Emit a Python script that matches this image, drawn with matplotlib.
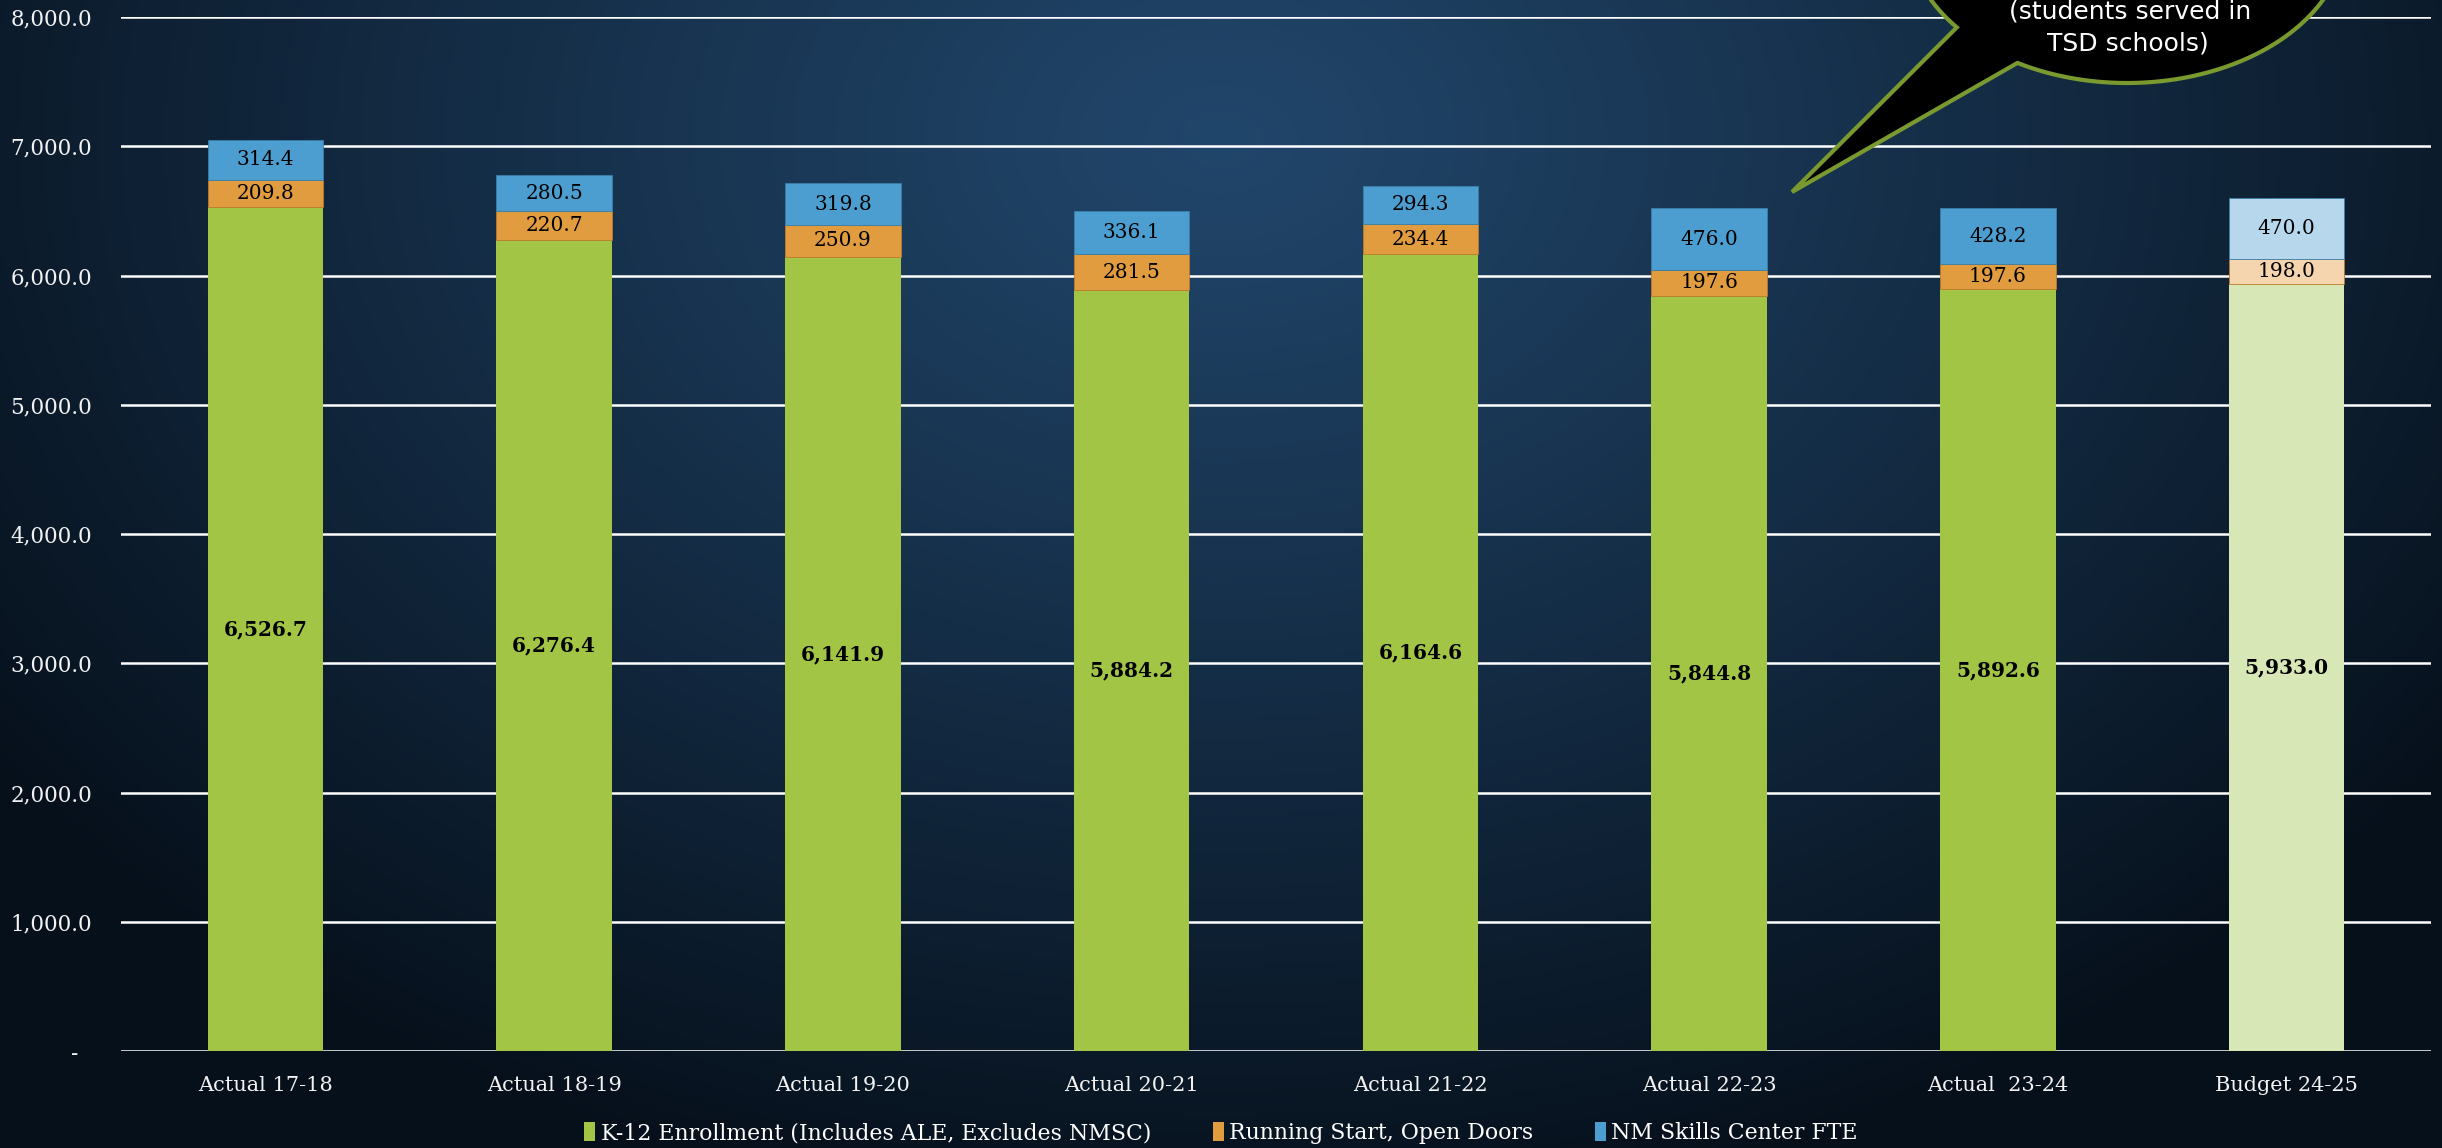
import numpy as np
import matplotlib
matplotlib.use("Agg")
import matplotlib.pyplot as plt
from matplotlib.patches import Polygon, Patch
from matplotlib.ticker import FuncFormatter

# chart data
categories = ["Actual 17-18", "Actual 18-19", "Actual 19-20", "Actual 20-21",
              "Actual 21-22", "Actual 22-23", "Actual  23-24", "Budget 24-25"]
k12 = [6526.7, 6276.4, 6141.9, 5884.2, 6164.6, 5844.8, 5892.6, 5933.0]
running_start = [209.8, 220.7, 250.9, 281.5, 234.4, 197.6, 197.6, 198.0]
skills_center = [314.4, 280.5, 319.8, 336.1, 294.3, 476.0, 428.2, 470.0]
series_names = ["K-12 Enrollment (Includes ALE, Excludes NMSC)",
                "Running Start, Open Doors", "NM Skills Center FTE"]

W, H = 2442, 1148
fig = plt.figure(figsize=(W / 100, H / 100), dpi=100)

# background gradient
bg = fig.add_axes([0, 0, 1, 1], zorder=0)
yy, xx = np.mgrid[0:1:300j, 0:1:600j]
d = np.sqrt(((xx - 0.5) / 0.62) ** 2 + ((yy - 0.12) / 0.95) ** 2)
t = np.clip(d, 0, 1) ** 1.1
center = np.array([33, 70, 107]) / 255
edge = np.array([6, 16, 27]) / 255
img = center[None, None, :] * (1 - t[..., None]) + edge[None, None, :] * t[..., None]
bg.imshow(img, aspect="auto", extent=[0, 1, 0, 1], origin="upper")
bg.axis("off")

ax = fig.add_axes([121 / W, 1 - 1051 / H, (2431 - 121) / W, (1051 - 17) / H], zorder=1)
ax.set_facecolor("none")

x = np.arange(len(categories))
n = len(categories)
green = ["#a2c545"] * (n - 1) + ["#d8e7b6"]
orange = ["#e09c3e"] * (n - 1) + ["#f5d5ae"]
blue = ["#4b9ecf"] * (n - 1) + ["#b6d7ec"]

k12 = np.array(k12)
running_start = np.array(running_start)
skills_center = np.array(skills_center)

w = 0.40
ax.bar(x, k12, w, color=green, zorder=3)
ax.bar(x, running_start, w, bottom=k12, color=orange, edgecolor="#b97a2a",
       linewidth=0.6, zorder=3)
ax.bar(x, skills_center, w, bottom=k12 + running_start, color=blue,
       edgecolor="#3a7fa8", linewidth=0.6, zorder=3)

lab_font = "DejaVu Serif"
for i in range(n):
    ax.text(x[i], k12[i] / 2, f"{k12[i]:,.1f}", ha="center", va="center",
            fontsize=14.5, fontweight="bold", family=lab_font, color="black", zorder=4)
    ax.text(x[i], k12[i] + running_start[i] / 2, f"{running_start[i]:,.1f}",
            ha="center", va="center", fontsize=14.5, family=lab_font, color="black", zorder=4)
    ax.text(x[i], k12[i] + running_start[i] + skills_center[i] / 2, f"{skills_center[i]:,.1f}",
            ha="center", va="center", fontsize=14.5, family=lab_font, color="black", zorder=4)

ax.set_xlim(-0.5, n - 0.5)
ax.set_ylim(0, 8000)
ax.set_yticks(np.arange(0, 8001, 1000))
ax.yaxis.set_major_formatter(FuncFormatter(lambda v, p: "-  " if v == 0 else f"{v:,.1f}"))
ax.set_xticks(x)
ax.set_xticklabels(categories)
ax.grid(axis="y", color="white", linewidth=1.8, zorder=1)
ax.set_axisbelow(True)
for s in ax.spines.values():
    s.set_visible(False)
ax.tick_params(axis="both", length=0, colors="#f2f2f2")
ax.tick_params(axis="y", pad=21, labelsize=15.5)
ax.tick_params(axis="x", pad=18, labelsize=15)
for lbl in ax.get_xticklabels() + ax.get_yticklabels():
    lbl.set_family(lab_font)

# legend
handles = [Patch(facecolor=c, edgecolor="none") for c in ["#a2c545", "#e09c3e", "#4b9ecf"]]
leg = fig.legend(handles, series_names, loc="center", bbox_to_anchor=(0.5, 1 - 1133 / H),
                 ncol=3, frameon=False, handlelength=0.5, handleheight=1.0,
                 handletextpad=0.25, columnspacing=2.8,
                 prop={"family": lab_font, "size": 15.8})
for txt in leg.get_texts():
    txt.set_color("white")

# speech bubble
cx, cy, a, b = 2127, -67, 219, 150
ts = np.radians(np.linspace(120, -219, 200))
px = cx + a * np.cos(ts)
py = cy + b * np.sin(ts)
pts = list(zip(px, py)) + [(1792, 192)]
pts = [(p[0] / W, 1 - p[1] / H) for p in pts]
bubble = Polygon(pts, closed=True, facecolor="black", edgecolor="#7a9a30",
                 linewidth=3.0, transform=fig.transFigure, zorder=5)
fig.add_artist(bubble)
fig.text(2130 / W, 1 - 12 / H, "(students served in", ha="center", va="center",
         color="white", fontsize=18, family="DejaVu Sans", zorder=6)
fig.text(2128 / W, 1 - 44 / H, "TSD schools)", ha="center", va="center",
         color="white", fontsize=18, family="DejaVu Sans", zorder=6)

fig.savefig("out.png", dpi=100)
